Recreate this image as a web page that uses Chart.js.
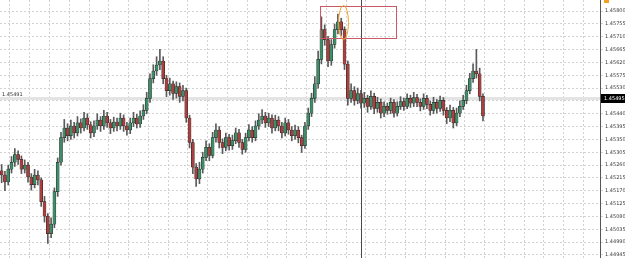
<!DOCTYPE html>
<html>
<head>
<meta charset="utf-8">
<script src="https://cdn.jsdelivr.net/npm/chart.js@4/dist/chart.umd.min.js"></script>
<style>
  html, body { margin: 0; padding: 0; background: #ffffff; }
  #wrap { width: 625px; height: 258px; }
</style>
</head>
<body>
<div id="wrap"><canvas id="priceChart" width="625" height="258"></canvas></div>
<script>
// candle values
const opens = [
  1.45240, 1.45225, 1.45201, 1.45246, 1.45270, 1.45297, 1.45280, 1.45246, 1.45260, 1.45218,
  1.45191, 1.45225, 1.45208, 1.45132, 1.45081, 1.45019, 1.45053, 1.45167, 1.45270, 1.45356,
  1.45390, 1.45363, 1.45397, 1.45373, 1.45408, 1.45390, 1.45425, 1.45401, 1.45373, 1.45397,
  1.45418, 1.45397, 1.45432, 1.45408, 1.45390, 1.45411, 1.45397, 1.45425, 1.45397, 1.45383,
  1.45408, 1.45425, 1.45404, 1.45432, 1.45452, 1.45494, 1.45563, 1.45590, 1.45611, 1.45625,
  1.45563, 1.45521, 1.45545, 1.45511, 1.45535, 1.45501, 1.45521, 1.45425, 1.45339, 1.45253,
  1.45211, 1.45246, 1.45287, 1.45322, 1.45294, 1.45356, 1.45383, 1.45339, 1.45322, 1.45356,
  1.45328, 1.45346, 1.45373, 1.45339, 1.45315, 1.45356, 1.45383, 1.45356, 1.45397, 1.45418,
  1.45432, 1.45408, 1.45425, 1.45390, 1.45418, 1.45397, 1.45373, 1.45408, 1.45383, 1.45363,
  1.45383, 1.45356, 1.45328, 1.45397, 1.45442, 1.45494, 1.45545, 1.45631, 1.45735, 1.45700,
  1.45625, 1.45683, 1.45735, 1.45762, 1.45735, 1.45614, 1.45494, 1.45521, 1.45487, 1.45511,
  1.45477, 1.45494, 1.45466, 1.45501, 1.45459, 1.45480, 1.45442, 1.45466, 1.45452, 1.45480,
  1.45442, 1.45466, 1.45483, 1.45466, 1.45494, 1.45477, 1.45497, 1.45480, 1.45466, 1.45494,
  1.45473, 1.45452, 1.45480, 1.45459, 1.45487, 1.45452, 1.45425, 1.45452, 1.45408, 1.45442,
  1.45466, 1.45487, 1.45521, 1.45563, 1.45590, 1.45580, 1.45501
];
const highs = [
  1.45262, 1.45238, 1.45260, 1.45290, 1.45318, 1.45310, 1.45292, 1.45278, 1.45270, 1.45230,
  1.45245, 1.45240, 1.45215, 1.45150, 1.45090, 1.45075, 1.45180, 1.45285, 1.45375, 1.45420,
  1.45405, 1.45418, 1.45410, 1.45430, 1.45422, 1.45445, 1.45440, 1.45412, 1.45415, 1.45440,
  1.45430, 1.45452, 1.45445, 1.45420, 1.45428, 1.45425, 1.45442, 1.45436, 1.45410, 1.45425,
  1.45445, 1.45438, 1.45450, 1.45472, 1.45515, 1.45580, 1.45612, 1.45640, 1.45666, 1.45640,
  1.45575, 1.45565, 1.45555, 1.45552, 1.45548, 1.45540, 1.45530, 1.45435, 1.45350, 1.45265,
  1.45270, 1.45305, 1.45345, 1.45335, 1.45375, 1.45405, 1.45395, 1.45352, 1.45372, 1.45368,
  1.45365, 1.45390, 1.45385, 1.45350, 1.45372, 1.45402, 1.45395, 1.45415, 1.45440, 1.45455,
  1.45445, 1.45442, 1.45436, 1.45435, 1.45430, 1.45410, 1.45425, 1.45420, 1.45395, 1.45400,
  1.45395, 1.45365, 1.45410, 1.45460, 1.45512, 1.45570, 1.45660, 1.45780, 1.45752, 1.45712,
  1.45700, 1.45755, 1.45790, 1.45775, 1.45745, 1.45625, 1.45545, 1.45535, 1.45530, 1.45522,
  1.45515, 1.45505, 1.45520, 1.45512, 1.45498, 1.45492, 1.45482, 1.45478, 1.45495, 1.45490,
  1.45482, 1.45500, 1.45495, 1.45510, 1.45505, 1.45515, 1.45508, 1.45492, 1.45510, 1.45505,
  1.45485, 1.45498, 1.45490, 1.45502, 1.45497, 1.45462, 1.45470, 1.45462, 1.45460, 1.45485,
  1.45505, 1.45540, 1.45582, 1.45615, 1.45666, 1.45600, 1.45510
];
const lows = [
  1.45198, 1.45170, 1.45190, 1.45232, 1.45255, 1.45262, 1.45230, 1.45232, 1.45200, 1.45172,
  1.45180, 1.45190, 1.45115, 1.45060, 1.44985, 1.45005, 1.45040, 1.45150, 1.45260, 1.45340,
  1.45345, 1.45350, 1.45355, 1.45362, 1.45372, 1.45380, 1.45385, 1.45355, 1.45360, 1.45385,
  1.45378, 1.45385, 1.45392, 1.45370, 1.45378, 1.45380, 1.45385, 1.45378, 1.45365, 1.45370,
  1.45395, 1.45390, 1.45392, 1.45420, 1.45440, 1.45480, 1.45548, 1.45575, 1.45595, 1.45545,
  1.45500, 1.45505, 1.45490, 1.45495, 1.45480, 1.45485, 1.45410, 1.45320, 1.45230, 1.45185,
  1.45195, 1.45232, 1.45275, 1.45275, 1.45285, 1.45340, 1.45320, 1.45300, 1.45310, 1.45312,
  1.45315, 1.45335, 1.45322, 1.45298, 1.45305, 1.45345, 1.45340, 1.45345, 1.45385, 1.45405,
  1.45392, 1.45395, 1.45372, 1.45380, 1.45380, 1.45355, 1.45362, 1.45368, 1.45345, 1.45350,
  1.45338, 1.45304, 1.45318, 1.45385, 1.45430, 1.45480, 1.45530, 1.45615, 1.45680, 1.45605,
  1.45610, 1.45670, 1.45720, 1.45715, 1.45595, 1.45470, 1.45480, 1.45470, 1.45475, 1.45460,
  1.45462, 1.45445, 1.45455, 1.45440, 1.45445, 1.45425, 1.45430, 1.45438, 1.45440, 1.45428,
  1.45432, 1.45455, 1.45452, 1.45458, 1.45462, 1.45465, 1.45465, 1.45450, 1.45455, 1.45458,
  1.45435, 1.45440, 1.45442, 1.45448, 1.45435, 1.45405, 1.45412, 1.45390, 1.45398, 1.45430,
  1.45455, 1.45475, 1.45510, 1.45550, 1.45565, 1.45485, 1.45415
];
const closes = [
  1.45225, 1.45201, 1.45246, 1.45270, 1.45297, 1.45280, 1.45246, 1.45260, 1.45218, 1.45191,
  1.45225, 1.45208, 1.45132, 1.45081, 1.45019, 1.45053, 1.45167, 1.45270, 1.45356, 1.45390,
  1.45363, 1.45397, 1.45373, 1.45408, 1.45390, 1.45425, 1.45401, 1.45373, 1.45397, 1.45418,
  1.45397, 1.45432, 1.45408, 1.45390, 1.45411, 1.45397, 1.45425, 1.45397, 1.45383, 1.45408,
  1.45425, 1.45404, 1.45432, 1.45452, 1.45494, 1.45563, 1.45590, 1.45611, 1.45625, 1.45563,
  1.45521, 1.45545, 1.45511, 1.45535, 1.45501, 1.45521, 1.45425, 1.45339, 1.45253, 1.45211,
  1.45246, 1.45287, 1.45322, 1.45294, 1.45356, 1.45383, 1.45339, 1.45322, 1.45356, 1.45328,
  1.45346, 1.45373, 1.45339, 1.45315, 1.45356, 1.45383, 1.45356, 1.45397, 1.45418, 1.45432,
  1.45408, 1.45425, 1.45390, 1.45418, 1.45397, 1.45373, 1.45408, 1.45383, 1.45363, 1.45383,
  1.45356, 1.45328, 1.45397, 1.45442, 1.45494, 1.45545, 1.45631, 1.45735, 1.45700, 1.45625,
  1.45683, 1.45735, 1.45762, 1.45735, 1.45614, 1.45494, 1.45521, 1.45487, 1.45511, 1.45477,
  1.45494, 1.45466, 1.45501, 1.45459, 1.45480, 1.45442, 1.45466, 1.45452, 1.45480, 1.45442,
  1.45466, 1.45483, 1.45466, 1.45494, 1.45477, 1.45497, 1.45480, 1.45466, 1.45494, 1.45473,
  1.45452, 1.45480, 1.45459, 1.45487, 1.45452, 1.45425, 1.45452, 1.45408, 1.45442, 1.45466,
  1.45487, 1.45521, 1.45563, 1.45590, 1.45580, 1.45501, 1.45432
];

// price axis labels
const tickValues = [
  1.45800, 1.45755, 1.45710, 1.45665, 1.45620, 1.45575, 1.45530, 1.45485, 1.45440, 1.45395,
  1.45350, 1.45305, 1.45260, 1.45215, 1.45170, 1.45125, 1.45080, 1.45035, 1.44990, 1.44945
];
const priceMin = 1.44934;
const priceMax = 1.45839;

// total bar slots on screen (the rest is empty space on the right)
const slotCount = 182;

const bidPrice = 1.45495;
const bidLabel = '1.45495';
const leftLabel = '1.45491';
const cursorIndex = 109;
const boxRange = [96.5, 119.5];     // bar indices
const boxPrices = [1.45817, 1.45704];
const ringCenter = [103.7, 1.45760];
const ringSize = [1.5, 0.00060];    // half width in bars, half height in price

const labels = [];
for (let i = 0; i < slotCount; i++) labels.push(String(i));

const bodies = opens.map((o, i) => [o, closes[i]]);
const wicks = lows.map((l, i) => [l, highs[i]]);
const bodyColors = opens.map((o, i) => closes[i] >= o ? '#3f8c68' : '#a8403f');

const overlay = {
    id: 'overlay',
    beforeDatasetsDraw(chart) {
        const { ctx, chartArea: a, scales: { y } } = chart;
        const py = Math.round(y.getPixelForValue(bidPrice));
        ctx.save();
        ctx.fillStyle = '#e4e4e4';
        ctx.fillRect(a.left, py - 1, a.right - a.left, 3);
        ctx.restore();
    },
    afterDatasetsDraw(chart) {
        const { ctx, chartArea: a, scales: { x, y } } = chart;
        ctx.save();
        // cursor line
        const cx = Math.round(x.getPixelForValue(cursorIndex)) + 0.5;
        ctx.strokeStyle = '#4a4a4a';
        ctx.lineWidth = 1;
        ctx.beginPath();
        ctx.moveTo(cx, a.top);
        ctx.lineTo(cx, a.bottom);
        ctx.stroke();

        // box around the top
        const bx1 = x.getPixelForValue(boxRange[0]);
        const bx2 = x.getPixelForValue(boxRange[1]);
        const by1 = y.getPixelForValue(boxPrices[0]);
        const by2 = y.getPixelForValue(boxPrices[1]);
        ctx.strokeStyle = '#c85a66';
        ctx.strokeRect(Math.round(bx1) + 0.5, Math.round(by1) + 0.5, Math.round(bx2 - bx1), Math.round(by2 - by1));

        // ring
        const rx = x.getPixelForValue(ringCenter[0]);
        const ry = y.getPixelForValue(ringCenter[1]);
        const rw = x.getPixelForValue(ringCenter[0] + ringSize[0]) - rx;
        const rh = y.getPixelForValue(ringCenter[1] - ringSize[1]) - ry;
        ctx.strokeStyle = '#f0a528';
        ctx.beginPath();
        ctx.ellipse(rx, ry, rw, rh, 0, 0, Math.PI * 2);
        ctx.stroke();
        ctx.restore();
    },
    afterDraw(chart) {
        const { ctx, chartArea: a, scales: { y } } = chart;
        const py = Math.round(y.getPixelForValue(bidPrice));
        ctx.save();
        ctx.fillStyle = '#000000';
        ctx.fillRect(a.right + 1, py - 4, 24, 9);
        ctx.fillStyle = '#ffffff';
        ctx.font = '5px "DejaVu Sans"';
        ctx.textBaseline = 'middle';
        ctx.fillText(bidLabel, a.right + 4, py + 0.5);
        ctx.fillStyle = '#333333';
        ctx.fillText(leftLabel, a.left + 2, py - 3);
        ctx.fillStyle = '#f0a020';
        ctx.fillRect(a.right + 4, 0, 5, 3);
        ctx.restore();
    }
};

new Chart(document.getElementById('priceChart'), {
    type: 'bar',
    data: {
        labels: labels,
        datasets: [
            {
                label: 'wick',
                data: wicks,
                backgroundColor: '#5a5a5a',
                barThickness: 1,
                grouped: false,
                order: 2
            },
            {
                label: 'body',
                data: bodies,
                backgroundColor: bodyColors,
                borderColor: '#1e1e1e',
                borderWidth: 0.5,
                borderSkipped: false,
                barThickness: 3,
                grouped: false,
                order: 1
            }
        ]
    },
    options: {
        responsive: false,
        animation: false,
        layout: { padding: 0 },
        plugins: {
            legend: { display: false },
            tooltip: { enabled: false }
        },
        scales: {
            x: {
                offset: true,
                ticks: { display: false },
                grid: {
                    color: c => (c.index % 6 === 3 ? '#d2d2d2' : 'rgba(0,0,0,0)'),
                    drawTicks: false
                },
                border: { display: false, dash: [2, 2] },
                afterFit: s => { s.height = 0; }
            },
            y: {
                position: 'right',
                min: priceMin,
                max: priceMax,
                afterBuildTicks: s => { s.ticks = tickValues.map(v => ({ value: v })); },
                afterFit: s => {
                    s.width = 25;
                    s.paddingTop = 0;
                    s.paddingBottom = 0;
                },
                ticks: {
                    font: { size: 5, family: 'DejaVu Sans' },
                    color: '#3a3a3a',
                    padding: 2,
                    callback: v => Number(v).toFixed(5)
                },
                grid: { color: '#d2d2d2', tickLength: 3 },
                border: { display: true, color: '#555555', dash: [2, 2] }
            }
        }
    },
    plugins: [overlay]
});
</script>
</body>
</html>
